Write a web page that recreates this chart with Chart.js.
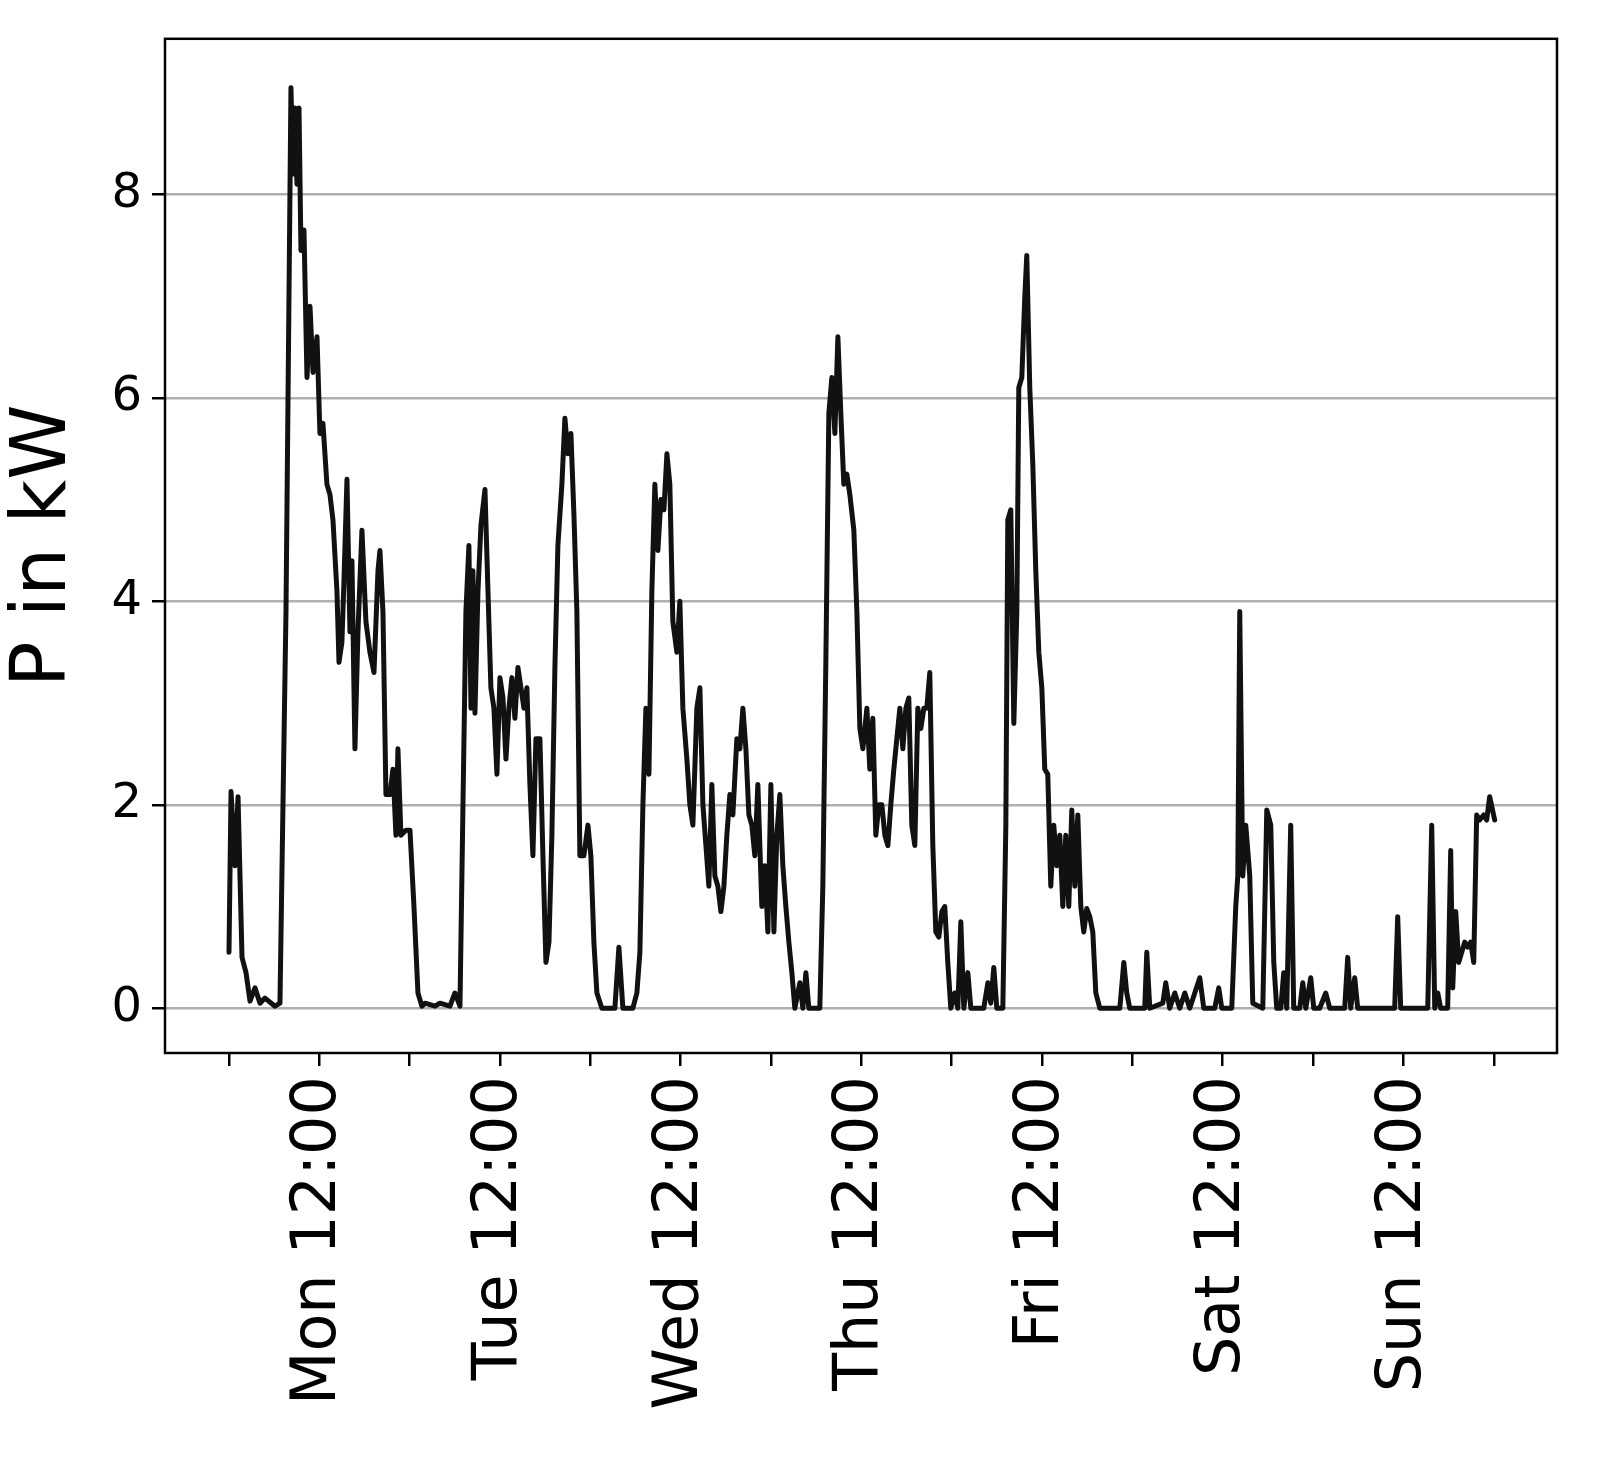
<!DOCTYPE html>
<html>
<head>
<meta charset="utf-8">
<script src="https://cdn.jsdelivr.net/npm/chart.js@4"></script>
<style>
  body { margin: 0; background: #fff; }
</style>
</head>
<body>
<canvas id="powerChart" width="1624" height="1474"></canvas>
<script>
// hours since Monday 00:00
const hours = [
  0, 0.27, 0.8, 1.2, 1.73, 2.26, 2.79, 3.45, 4.12, 4.78, 6.11, 6.77, 7.17, 7.57, 7.84, 8.23, 8.5, 8.76, 9.03, 9.3,
  9.56, 9.96, 10.36, 10.76, 11.16, 11.69, 12.08, 12.48, 13.01, 13.41, 13.81, 14.34, 14.61, 15.0, 15.27, 15.67, 16.07, 16.33, 16.73, 17.13,
  17.66, 18.19, 18.72, 19.26, 19.79, 20.05, 20.45, 20.85, 21.38, 21.78, 22.18, 22.44, 22.84, 23.5, 24.04, 24.57, 25.1, 25.63, 26.03, 27.36,
  28.02, 29.35, 30.01, 30.68, 31.08, 31.47, 31.87, 32.14, 32.4, 32.67, 33.07, 33.47, 34.0, 34.4, 34.79, 35.19, 35.59, 35.99, 36.39, 36.79,
  37.18, 37.58, 37.98, 38.38, 38.78, 39.18, 39.57, 39.97, 40.37, 40.77, 41.3, 41.7, 42.1, 42.5, 42.89, 43.29, 43.69, 44.22, 44.62, 45.02,
  45.42, 45.82, 46.21, 46.61, 47.14, 47.68, 48.07, 48.47, 48.87, 49.53, 51.26, 51.79, 52.32, 53.65, 54.18, 54.58, 54.98, 55.38, 55.78, 56.17,
  56.57, 56.97, 57.37, 57.77, 58.17, 58.56, 58.96, 59.49, 59.89, 60.29, 60.82, 61.22, 61.62, 62.15, 62.55, 62.95, 63.35, 63.74, 64.14, 64.54,
  64.94, 65.34, 65.74, 66.13, 66.53, 66.93, 67.46, 67.86, 68.26, 68.66, 69.06, 69.45, 69.85, 70.25, 70.78, 71.18, 71.58, 71.98, 72.38, 72.77,
  73.17, 73.57, 73.97, 74.37, 74.77, 75.16, 75.83, 76.23, 76.63, 77.02, 78.48, 78.88, 79.28, 79.68, 80.08, 80.48, 80.88, 81.27, 81.67, 82.07,
  82.47, 83.0, 83.4, 83.8, 84.2, 84.73, 85.12, 85.52, 85.92, 86.32, 86.72, 87.12, 87.52, 87.91, 88.31, 88.71, 89.11, 89.51, 89.91, 90.3,
  90.7, 91.1, 91.5, 91.9, 92.3, 92.69, 93.09, 93.49, 93.89, 94.29, 94.69, 95.08, 95.48, 95.88, 96.41, 96.81, 97.21, 97.61, 98.14, 98.54,
  100.26, 100.8, 101.19, 101.59, 101.99, 102.79, 103.19, 103.45, 103.85, 104.25, 104.65, 104.91, 105.31, 105.71, 105.97, 106.37, 106.77, 107.17, 107.57, 107.97,
  108.36, 108.76, 109.16, 109.56, 109.96, 110.36, 110.76, 111.15, 111.55, 111.95, 112.35, 112.75, 113.15, 113.54, 113.94, 114.34, 114.74, 115.14, 115.67, 118.33,
  118.86, 119.25, 119.65, 121.64, 121.91, 122.31, 124.04, 124.43, 124.96, 125.63, 126.29, 126.96, 127.62, 128.95, 129.48, 130.94, 131.47, 131.87, 133.2, 133.73,
  134.0, 134.26, 134.66, 135.06, 135.59, 135.99, 137.32, 137.85, 138.38, 138.78, 139.17, 139.71, 140.1, 140.5, 141.03, 141.43, 142.23, 142.63, 143.03, 143.69,
  144.09, 144.88, 145.68, 146.21, 148.2, 148.6, 149.0, 149.53, 149.93, 154.84, 155.24, 155.64, 159.23, 159.76, 160.16, 160.56, 160.95, 161.88, 162.28, 162.55,
  162.95, 163.34, 163.74, 164.14, 164.54, 164.94, 165.34, 165.73, 166.13, 166.66, 167.06, 167.46, 168.12
];
const powerKw = [
  0.55, 2.13, 1.4, 2.08, 0.5, 0.35, 0.07, 0.2, 0.05, 0.1, 0.02, 0.05, 2, 3.9, 6, 9.05, 8.2, 8.85, 8.1, 8.85,
  7.45, 7.65, 6.2, 6.9, 6.25, 6.6, 5.65, 5.75, 5.15, 5.05, 4.8, 4.1, 3.4, 3.6, 4.2, 5.2, 3.7, 4.4, 2.55, 3.7,
  4.7, 3.8, 3.5, 3.3, 4.3, 4.5, 3.9, 2.1, 2.1, 2.35, 1.7, 2.55, 1.7, 1.75, 1.75, 1.0, 0.15, 0.02, 0.05, 0.02,
  0.05, 0.02, 0.15, 0.02, 2, 3.9, 4.55, 2.95, 4.3, 2.9, 4.1, 4.75, 5.1, 4.1, 3.15, 2.95, 2.3, 3.25, 3.05, 2.45,
  2.95, 3.25, 2.85, 3.35, 3.15, 2.95, 3.15, 2.2, 1.5, 2.65, 2.65, 1.5, 0.45, 0.65, 1.7, 3.35, 4.55, 5.15, 5.8, 5.45,
  5.65, 4.85, 3.9, 1.5, 1.5, 1.8, 1.5, 0.65, 0.15, 0, 0, 0.6, 0, 0, 0.15, 0.55, 2, 2.95, 2.3, 4.1,
  5.15, 4.5, 5, 4.9, 5.45, 5.15, 3.8, 3.5, 4, 2.95, 2.45, 2, 1.8, 2.95, 3.15, 2, 1.6, 1.2, 2.2, 1.3,
  1.2, 0.95, 1.2, 1.7, 2.1, 1.9, 2.65, 2.55, 2.95, 2.55, 1.9, 1.8, 1.5, 2.2, 1.0, 1.4, 0.75, 2.2, 0.75, 1.7,
  2.1, 1.4, 1.0, 0.65, 0.35, 0, 0.25, 0, 0.35, 0, 0, 1.2, 3.4, 5.85, 6.2, 5.65, 6.6, 5.85, 5.15, 5.25,
  5.05, 4.7, 3.9, 2.75, 2.55, 2.95, 2.35, 2.85, 1.7, 2, 2, 1.7, 1.6, 2, 2.35, 2.65, 2.95, 2.55, 2.95, 3.05,
  1.8, 1.6, 2.95, 2.75, 2.95, 2.95, 3.3, 1.6, 0.75, 0.7, 0.95, 1.0, 0.45, 0, 0.15, 0, 0.85, 0, 0.35, 0,
  0, 0.25, 0.05, 0.4, 0, 0, 1.8, 4.8, 4.9, 2.8, 3.9, 6.1, 6.2, 7.0, 7.4, 6.1, 5.35, 4.3, 3.5, 3.15,
  2.35, 2.3, 1.2, 1.8, 1.4, 1.7, 1.0, 1.7, 1.0, 1.95, 1.2, 1.9, 1.0, 0.75, 0.98, 0.9, 0.75, 0.15, 0, 0,
  0.45, 0.15, 0, 0, 0.55, 0, 0.05, 0.25, 0, 0.15, 0, 0.15, 0, 0.3, 0, 0, 0.2, 0, 0, 1.0,
  1.3, 3.9, 1.3, 1.8, 1.3, 0.05, 0, 1.95, 1.8, 0.45, 0, 0, 0.35, 0, 1.8, 0, 0, 0.25, 0, 0.3,
  0, 0, 0.15, 0, 0, 0.5, 0, 0.3, 0, 0, 0.9, 0, 0, 1.8, 0, 0.15, 0, 0, 1.55, 0.2,
  0.95, 0.45, 0.55, 0.65, 0.6, 0.65, 0.45, 1.9, 1.85, 1.9, 1.85, 2.08, 1.85
];
const dayNames = ["Mon", "Tue", "Wed", "Thu", "Fri", "Sat", "Sun"];
const yTicks = [0, 2, 4, 6, 8];

const points = hours.map((h, i) => ({ x: h, y: powerKw[i] }));

const frameBox = {
  id: "frameBox",
  afterDraw(chart) {
    const { ctx, chartArea } = chart;
    ctx.save();
    ctx.strokeStyle = "#000";
    ctx.lineWidth = 2.5;
    ctx.strokeRect(chartArea.left, chartArea.top,
      chartArea.right - chartArea.left, chartArea.bottom - chartArea.top);
    ctx.restore();
  },
};

const ctx = document.getElementById("powerChart").getContext("2d");
new Chart(ctx, {
  type: "line",
  data: {
    datasets: [
      {
        data: points,
        borderColor: "#111",
        borderWidth: 5,
        borderJoinStyle: "round",
        borderCapStyle: "round",
        pointRadius: 0,
        tension: 0,
      },
    ],
  },
  options: {
    responsive: false,
    animation: false,
    devicePixelRatio: 1,
    layout: { padding: { top: 15, right: 67, left: 0, bottom: 0 } },
    plugins: { legend: { display: false }, tooltip: { enabled: false } },
    scales: {
      x: {
        type: "linear",
        min: -8.5,
        max: 176.4,
        afterBuildTicks(scale) {
          const t = [];
          for (let h = 0; h <= 168; h += 12) t.push({ value: h });
          scale.ticks = t;
        },
        afterFit(scale) { scale.height = 421; },
        border: { display: false },
        grid: { drawOnChartArea: false, drawTicks: true, tickLength: 13, color: "#000", lineWidth: 2.5 },
        ticks: {
          autoSkip: false,
          maxRotation: 90,
          minRotation: 90,
          color: "#000",
          padding: 10,
          font: { family: "DejaVu Sans", size: 62 },
          callback(value) {
            if (value % 24 === 12) return dayNames[(value - 12) / 24] + " 12:00";
            return "";
          },
        },
      },
      y: {
        min: -0.44,
        max: 9.53,
        afterBuildTicks(scale) {
          scale.ticks = yTicks.map((v) => ({ value: v }));
        },
        afterFit(scale) { scale.width = 165; },
        border: { display: false },
        grid: { color: "#b0b0b0", lineWidth: 2.5, tickColor: "#000", tickLength: 13 },
        ticks: {
          color: "#000",
          padding: 10,
          font: { family: "DejaVu Sans", size: 48 },
        },
        title: {
          display: true,
          text: "P in kW",
          color: "#000",
          padding: 0,
          font: { family: "DejaVu Sans", size: 76 },
        },
      },
    },
  },
  plugins: [frameBox],
});
</script>
</body>
</html>
